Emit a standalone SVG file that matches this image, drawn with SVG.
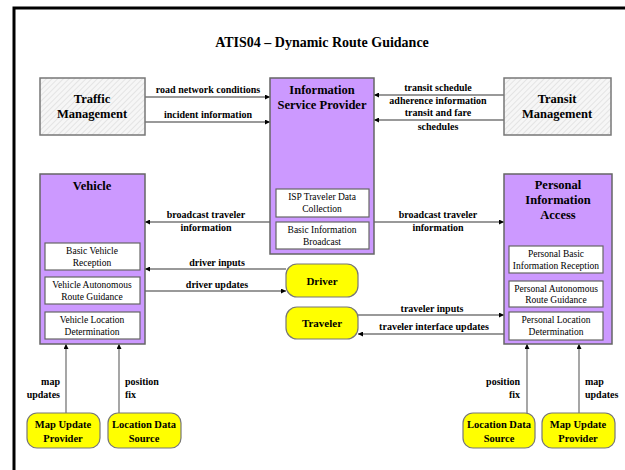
<svg xmlns="http://www.w3.org/2000/svg" width="625" height="470" viewBox="0 0 625 470">
  <style>
    text { font-family: "Liberation Serif", "Times New Roman", "DejaVu Serif", serif; fill: #000; }
    .title { font-size: 14px; font-weight: bold; text-anchor: middle; }
    .hdr { font-size: 12.5px; font-weight: bold; text-anchor: middle; }
    .sub { font-size: 9.5px; text-anchor: middle; }
    .lbl { font-size: 10px; font-weight: bold; text-anchor: middle; }
    .lblr { font-size: 10px; font-weight: bold; text-anchor: end; }
    .lbll { font-size: 10px; font-weight: bold; text-anchor: start; }
    .hatch { fill: url(#diag); stroke: #777; stroke-width: 1.5; }
    .sys { fill: #cc99ff; stroke: #666; stroke-width: 1.5; }
    .pkg { fill: #fff; stroke: #666; stroke-width: 1.2; }
    .actor { fill: #ffff00; stroke: #777; stroke-width: 1.2; }
    .flow { stroke: #777; stroke-width: 1.3; fill: none; marker-end: url(#arr); }
  </style>
  <defs>
    <!-- light diagonal hatch for terminators -->
    <pattern id="diag" width="4" height="4" patternUnits="userSpaceOnUse" patternTransform="rotate(45)">
      <rect width="4" height="4" fill="#f6f6f6"/>
      <line x1="0" y1="0" x2="0" y2="4" stroke="#d2d2d2" stroke-width="1"/>
    </pattern>
    <marker id="arr" viewBox="0 0 10 10" refX="10" refY="5" markerWidth="5" markerHeight="5" orient="auto" markerUnits="userSpaceOnUse">
      <path d="M0,0 L10,5 L0,10 z" fill="#000"/>
    </marker>
  </defs>

  <rect width="625" height="470" fill="#fff"/>
  <!-- page frame -->
  <rect x="14" y="8" width="640" height="480" fill="none" stroke="#000" stroke-width="3"/>

  <text class="title" x="322" y="47">ATIS04 – Dynamic Route Guidance</text>

  <!-- connectors -->
  <g id="connectors">
    <line class="flow" x1="145" y1="97" x2="270" y2="97"/>
    <line class="flow" x1="145" y1="122" x2="270" y2="122"/>
    <line class="flow" x1="504" y1="95" x2="374" y2="95"/>
    <line class="flow" x1="504" y1="120" x2="374" y2="120"/>
    <line class="flow" x1="270" y1="222" x2="145" y2="222"/>
    <line class="flow" x1="374" y1="222" x2="504" y2="222"/>
    <line class="flow" x1="286" y1="269" x2="145" y2="269"/>
    <line class="flow" x1="145" y1="291" x2="286" y2="291"/>
    <line class="flow" x1="358" y1="315" x2="504" y2="315"/>
    <line class="flow" x1="504" y1="334" x2="358" y2="334"/>
    <line class="flow" x1="66" y1="413" x2="66" y2="344"/>
    <line class="flow" x1="119" y1="413" x2="119" y2="344"/>
    <line class="flow" x1="527" y1="413" x2="527" y2="344"/>
    <line class="flow" x1="579" y1="413" x2="579" y2="344"/>

    <text class="lbl" x="208" y="93">road network conditions</text>
    <text class="lbl" x="208" y="118">incident information</text>
    <text class="lbl" x="438" y="91">transit schedule</text>
    <text class="lbl" x="438" y="104">adherence information</text>
    <text class="lbl" x="438" y="116">transit and fare</text>
    <text class="lbl" x="438" y="130">schedules</text>
    <text class="lbl" x="206" y="218">broadcast traveler</text>
    <text class="lbl" x="206" y="231">information</text>
    <text class="lbl" x="438" y="218">broadcast traveler</text>
    <text class="lbl" x="438" y="231">information</text>
    <text class="lbl" x="217" y="266">driver inputs</text>
    <text class="lbl" x="217" y="288">driver updates</text>
    <text class="lbl" x="432" y="312">traveler inputs</text>
    <text class="lbl" x="434" y="330">traveler interface updates</text>
    <text class="lblr" x="60" y="385">map</text>
    <text class="lblr" x="60" y="398">updates</text>
    <text class="lbll" x="125" y="385">position</text>
    <text class="lbll" x="125" y="398">fix</text>
    <text class="lblr" x="520" y="385">position</text>
    <text class="lblr" x="520" y="398">fix</text>
    <text class="lbll" x="585" y="385">map</text>
    <text class="lbll" x="585" y="398">updates</text>
  </g>

  <!-- terminators -->
  <g id="traffic-management">
    <rect class="hatch" x="40" y="78" width="105" height="57"/>
    <text class="hdr" x="92" y="103">Traffic</text>
    <text class="hdr" x="92" y="118">Management</text>
  </g>
  <g id="transit-management">
    <rect class="hatch" x="504" y="78" width="107" height="57"/>
    <text class="hdr" x="557" y="103">Transit</text>
    <text class="hdr" x="557" y="118">Management</text>
  </g>

  <!-- subsystems -->
  <g id="information-service-provider">
    <rect class="sys" x="270" y="78" width="104" height="176"/>
    <text class="hdr" x="322" y="94">Information</text>
    <text class="hdr" x="322" y="109">Service Provider</text>
    <rect class="pkg" x="276" y="189" width="93" height="28"/>
    <text class="sub" x="322" y="200">ISP Traveler Data</text>
    <text class="sub" x="322" y="212">Collection</text>
    <rect class="pkg" x="276" y="222" width="93" height="27"/>
    <text class="sub" x="322" y="233">Basic Information</text>
    <text class="sub" x="322" y="245">Broadcast</text>
  </g>

  <g id="vehicle">
    <rect class="sys" x="40" y="174" width="105" height="170"/>
    <text class="hdr" x="92" y="190">Vehicle</text>
    <rect class="pkg" x="45" y="243" width="95" height="27"/>
    <text class="sub" x="92" y="254">Basic Vehicle</text>
    <text class="sub" x="92" y="266">Reception</text>
    <rect class="pkg" x="45" y="277" width="95" height="27"/>
    <text class="sub" x="92" y="288">Vehicle Autonomous</text>
    <text class="sub" x="92" y="300">Route Guidance</text>
    <rect class="pkg" x="45" y="312" width="95" height="27"/>
    <text class="sub" x="92" y="323">Vehicle Location</text>
    <text class="sub" x="92" y="335">Determination</text>
  </g>

  <g id="personal-information-access">
    <rect class="sys" x="504" y="174" width="108" height="170"/>
    <text class="hdr" x="558" y="189">Personal</text>
    <text class="hdr" x="558" y="204">Information</text>
    <text class="hdr" x="558" y="219">Access</text>
    <rect class="pkg" x="509" y="246" width="94" height="27"/>
    <text class="sub" x="556" y="257">Personal Basic</text>
    <text class="sub" x="556" y="269">Information Reception</text>
    <rect class="pkg" x="509" y="281" width="94" height="26"/>
    <text class="sub" x="556" y="292">Personal Autonomous</text>
    <text class="sub" x="556" y="303">Route Guidance</text>
    <rect class="pkg" x="509" y="312" width="94" height="28"/>
    <text class="sub" x="556" y="323">Personal Location</text>
    <text class="sub" x="556" y="335">Determination</text>
  </g>

  <!-- actors -->
  <g id="driver">
    <rect class="actor" x="286" y="264" width="72" height="33" rx="11"/>
    <text class="hdr" x="322" y="285" style="font-size:11px">Driver</text>
  </g>
  <g id="traveler">
    <rect class="actor" x="286" y="307" width="72" height="32" rx="11"/>
    <text class="hdr" x="322" y="327" style="font-size:11px">Traveler</text>
  </g>
  <g id="map-update-provider-left">
    <rect class="actor" x="27" y="413" width="73" height="35" rx="10"/>
    <text class="hdr" x="63" y="428" style="font-size:10.5px">Map Update</text>
    <text class="hdr" x="63" y="442" style="font-size:10.5px">Provider</text>
  </g>
  <g id="location-data-source-left">
    <rect class="actor" x="108" y="413" width="73" height="35" rx="10"/>
    <text class="hdr" x="144" y="428" style="font-size:10.5px">Location Data</text>
    <text class="hdr" x="144" y="442" style="font-size:10.5px">Source</text>
  </g>
  <g id="location-data-source-right">
    <rect class="actor" x="463" y="413" width="72" height="35" rx="10"/>
    <text class="hdr" x="499" y="428" style="font-size:10.5px">Location Data</text>
    <text class="hdr" x="499" y="442" style="font-size:10.5px">Source</text>
  </g>
  <g id="map-update-provider-right">
    <rect class="actor" x="542" y="413" width="73" height="35" rx="10"/>
    <text class="hdr" x="578" y="428" style="font-size:10.5px">Map Update</text>
    <text class="hdr" x="578" y="442" style="font-size:10.5px">Provider</text>
  </g>
</svg>
